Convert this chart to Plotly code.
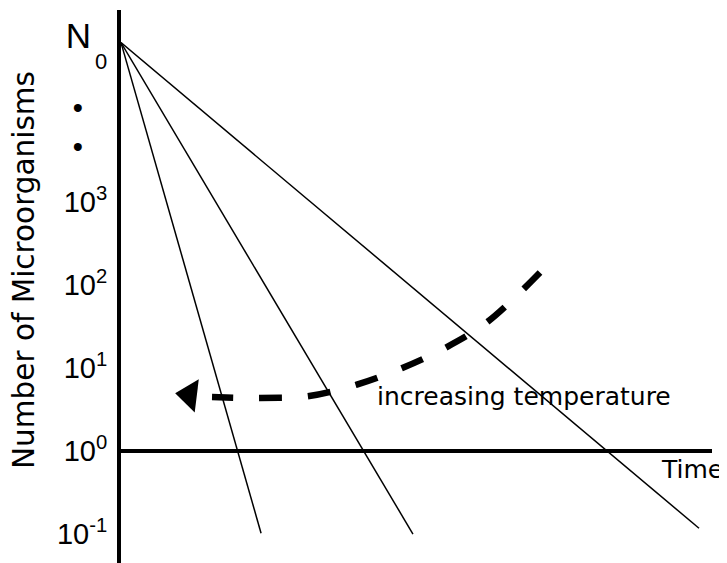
import plotly.graph_objects as go

# ---- data (x: time, arbitrary units; y: log10 of the number of microorganisms) ----
log_n0 = 4.92                      # level N0 where all curves start
curve_labels = ["highest temperature", "middle temperature", "lowest temperature"]
end_times = [2.37, 4.94, 9.78]     # time at which each survival line ends
end_logs = [-0.99, -1.00, -0.93]   # log10 count at the end of each line

tick_vals = [4.98, 4.73, 4.14, 3.67, 3, 2, 1, 0, -1]
tick_text = [
    "<span style='font-size:35px'>N</span>&nbsp;&nbsp;",
    "<span style='font-size:22px'>0</span>",
    "•&nbsp;&nbsp;&nbsp;",
    "•&nbsp;&nbsp;&nbsp;",
    "10<sup>3</sup>",
    "10<sup>2</sup>",
    "10<sup>1</sup>",
    "10<sup>0</sup>",
    "10<sup>-1</sup>",
]

# dashed "increasing temperature" arrow (same data units)
arrow_x = [7.09, 6.19, 5.48, 4.76, 3.99, 3.16, 2.35, 1.54]
arrow_y = [2.15, 1.55, 1.24, 1.00, 0.80, 0.66, 0.64, 0.65]
arrow_head_x = [1.16]
arrow_head_y = [0.675]

arrow_label = "increasing temperature"
arrow_label_pos = (4.30, 0.66)
x_label = "Time"
x_label_pos = (9.66, -0.22)
y_label = "Number of Microorganisms"

fig = go.Figure()

for name, t_end, y_end in zip(curve_labels, end_times, end_logs):
    fig.add_trace(go.Scatter(
        x=[0.0, t_end], y=[log_n0, y_end], mode="lines", name=name,
        line=dict(color="black", width=1.5), showlegend=False, hoverinfo="skip",
    ))

fig.add_trace(go.Scatter(
    x=arrow_x, y=arrow_y, mode="lines", line_shape="spline",
    line=dict(color="black", width=6.5, dash="23px,26px"),
    showlegend=False, hoverinfo="skip",
))
fig.add_trace(go.Scatter(
    x=arrow_head_x, y=arrow_head_y, mode="markers",
    marker=dict(symbol="triangle-left", size=29, color="black", angle=7),
    showlegend=False, hoverinfo="skip",
))

fig.add_annotation(
    x=arrow_label_pos[0], y=arrow_label_pos[1], text=arrow_label, showarrow=False,
    xanchor="left", yanchor="middle",
    font=dict(family="DejaVu Sans", size=25, color="black"),
)
fig.add_annotation(
    x=x_label_pos[0], y=x_label_pos[1], text=x_label, showarrow=False,
    xanchor="center", yanchor="middle",
    font=dict(family="DejaVu Sans", size=25, color="black"),
)
fig.add_annotation(
    xref="paper", yref="paper", x=-0.164, y=0.53, text=y_label, showarrow=False,
    textangle=-90, xanchor="center", yanchor="middle", borderpad=0,
    font=dict(family="DejaVu Sans", size=29.5, color="black"),
)

fig.update_xaxes(
    range=[0, 10], showline=False, showgrid=False, zeroline=False,
    showticklabels=False, ticks="",
)
fig.update_yaxes(
    range=[-1.349, 5.313], showline=True, linewidth=4, linecolor="black",
    showgrid=False, zeroline=True, zerolinewidth=4, zerolinecolor="black",
    tickmode="array", tickvals=tick_vals, ticktext=tick_text, ticks="",
    ticklabelstandoff=4,
    tickfont=dict(family="Liberation Sans, Arial", size=29, color="black"),
)

# the page body adds an 8px offset; margins compensate so the plot lands in place
fig.update_layout(
    width=719, height=555,
    margin=dict(l=113, r=15, t=2, b=0, pad=0),
    paper_bgcolor="white", plot_bgcolor="white",
    showlegend=False,
)

fig.write_html("out.html")
